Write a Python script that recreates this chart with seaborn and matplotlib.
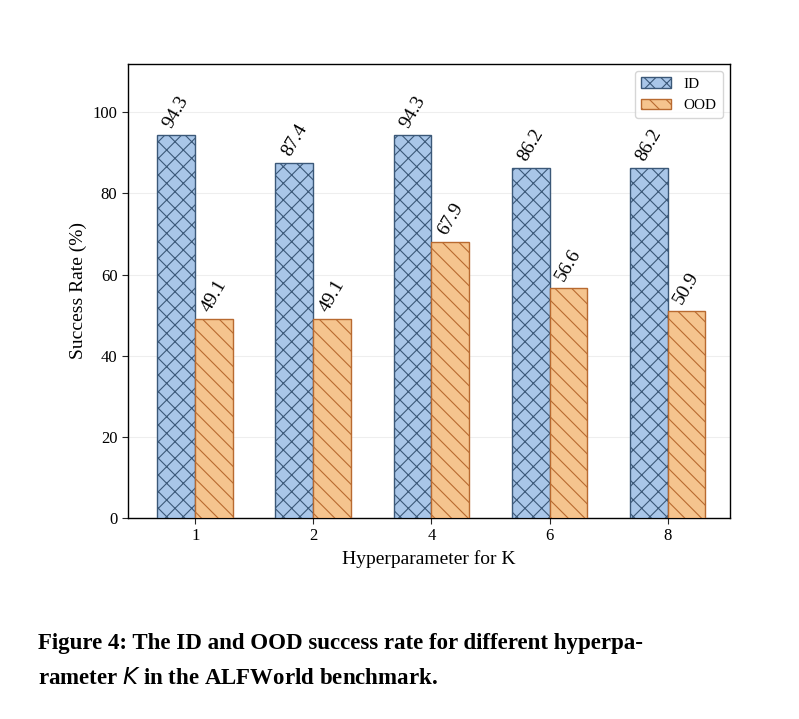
import matplotlib
matplotlib.use("Agg")
import matplotlib.pyplot as plt
import seaborn as sns
import pandas as pd

ks = ["1", "2", "4", "6", "8"]
id_vals = [94.3, 87.4, 94.3, 86.2, 86.2]
ood_vals = [49.1, 49.1, 67.9, 56.6, 50.9]

df = pd.DataFrame({"K": ks * 2, "val": id_vals + ood_vals,
                   "Split": ["ID"] * 5 + ["OOD"] * 5})

sns.set_style("white")
plt.rcParams["font.family"] = ["Liberation Serif", "DejaVu Serif"]
plt.rcParams["hatch.linewidth"] = 0.8
plt.rcParams["text.color"] = "black"

fig = plt.figure(figsize=(7.99, 7.19), dpi=100)
ax = fig.add_axes([0.160, 0.2796, 0.754, 0.632])
fills = {"ID": "#a9c6e8", "OOD": "#f5c48e"}
edges = {"ID": "#3b5878", "OOD": "#b86a30"}
hatches = {"ID": "xx", "OOD": "\\\\"}
sns.barplot(data=df, x="K", y="val", hue="Split", palette=fills, width=0.64,
            saturation=1, ax=ax, zorder=3)
for cont, name in zip(ax.containers, ["ID", "OOD"]):
    for b in cont:
        b.set_edgecolor(edges[name]); b.set_hatch(hatches[name]); b.set_linewidth(1.0)
    ax.bar_label(cont, fmt="%.1f", rotation=60, fontsize=14, padding=3, color="black")
ax.set_ylim(0, 112)
ax.set_xlim(-0.57, 4.53)
ax.set_yticks([0, 20, 40, 60, 80, 100])
ax.yaxis.grid(True, color="#eeeeee", zorder=0)
ax.tick_params(labelsize=12, left=True, bottom=True, length=4, labelcolor="black")
ax.set_xlabel("Hyperparameter for K", fontsize=14, color="black")
ax.set_ylabel("Success Rate (%)", fontsize=14, color="black")
for s in ax.spines.values():
    s.set_color("black"); s.set_linewidth(1)
leg = ax.legend(loc="upper right", fontsize=11, frameon=True, edgecolor="#cccccc")
for h, name in zip(leg.legend_handles, ["ID", "OOD"]):
    h.set_edgecolor(edges[name]); h.set_hatch(hatches[name])

fig.text(0.047, 0.098, "Figure 4: The ID and OOD success rate for different hyperpa-",
         fontsize=16.5, fontweight="bold", color="black")
fig.text(0.047, 0.048, "rameter $K$ in the ALFWorld benchmark.", fontsize=16.5,
         fontweight="bold", color="black")
fig.savefig("out.png", dpi=100)
